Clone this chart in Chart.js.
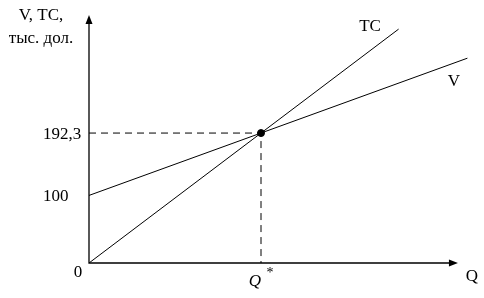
<!DOCTYPE html>
<html>
<head>
<meta charset="utf-8">
<script src="https://cdn.jsdelivr.net/npm/chart.js@4/dist/chart.umd.min.js"></script>
<style>
  html, body { margin: 0; padding: 0; background: #fff; }
  #wrap { width: 484px; height: 298px; }
</style>
</head>
<body>
<div id="wrap"><canvas id="chart"></canvas></div>
<script>
// данные графика
const qStar = 10;
const yStar = 192.3;
const tcQ = [0, 18];
const tcValues = [0, 346.1];
const vQ = [0, 22];
const vValues = [100, 303.1];
const yTickLabels = ['0', '100', '192,3'];
const yTickValues = [0, 100, 192.3];
const xMax = 22.2;
const yMax = 367;
const xAxisEnd = 21.45;

function toPoints(xs, ys) {
    return xs.map((x, i) => ({ x: x, y: ys[i] }));
}

const serif = '"Liberation Serif", "Times New Roman", serif';

const axesPlugin = {
    id: 'axes',
    afterDraw(chart) {
        const ctx = chart.ctx;
        const xs = chart.scales.x, ys = chart.scales.y;
        const x0 = xs.getPixelForValue(0), y0 = ys.getPixelForValue(0);
        const xEnd = xs.getPixelForValue(xAxisEnd), yEnd = ys.getPixelForValue(yMax);
        ctx.save();
        ctx.strokeStyle = '#000';
        ctx.fillStyle = '#000';
        ctx.lineWidth = 1.3;
        ctx.beginPath();
        ctx.moveTo(x0, yEnd + 4);
        ctx.lineTo(x0, y0);
        ctx.lineTo(xEnd - 4, y0);
        ctx.stroke();
        // стрелки
        ctx.beginPath();
        ctx.moveTo(x0, yEnd);
        ctx.lineTo(x0 - 3.5, yEnd + 9);
        ctx.lineTo(x0 + 3.5, yEnd + 9);
        ctx.closePath();
        ctx.fill();
        ctx.beginPath();
        ctx.moveTo(xEnd, y0);
        ctx.lineTo(xEnd - 9, y0 - 3.5);
        ctx.lineTo(xEnd - 9, y0 + 3.5);
        ctx.closePath();
        ctx.fill();

        ctx.font = '17px ' + serif;
        ctx.textBaseline = 'middle';
        ctx.textAlign = 'left';
        yTickLabels.forEach((t, i) => {
            if (yTickValues[i] === 0) return;
            ctx.fillText(t, 43, ys.getPixelForValue(yTickValues[i]) + 1);
        });
        ctx.textAlign = 'center';
        ctx.fillText('0', x0 - 11, y0 + 10);
        ctx.fillText('Q', 472, y0 + 14);
        ctx.fillText('V, TC,', 41, 16);
        ctx.fillText('тыс. дол.', 41, 39);
        ctx.fillText('TC', 370, 27);
        ctx.fillText('V', 454, 82);
        ctx.font = 'italic 17px ' + serif;
        ctx.fillText('Q', xs.getPixelForValue(qStar) - 6, y0 + 19);
        ctx.font = '14px ' + serif;
        ctx.fillText('*', xs.getPixelForValue(qStar) + 9, y0 + 10);
        ctx.restore();
    }
};

new Chart(document.getElementById('chart'), {
    type: 'scatter',
    data: {
        datasets: [
            {
                label: 'TC',
                data: toPoints(tcQ, tcValues),
                showLine: true,
                borderColor: '#000',
                borderWidth: 1,
                pointRadius: 0
            },
            {
                label: 'V',
                data: toPoints(vQ, vValues),
                showLine: true,
                borderColor: '#000',
                borderWidth: 1,
                pointRadius: 0
            },
            {
                label: 'guide',
                data: [{ x: 0, y: yStar }, { x: qStar, y: yStar }, { x: qStar, y: 0 }],
                showLine: true,
                borderColor: '#000',
                borderWidth: 1,
                borderDash: [7, 5],
                pointRadius: 0
            },
            {
                label: 'equilibrium',
                data: [{ x: qStar, y: yStar }],
                backgroundColor: '#000',
                borderColor: '#000',
                pointRadius: 3.5
            }
        ]
    },
    options: {
        responsive: true,
        maintainAspectRatio: false,
        animation: false,
        layout: { padding: { left: 89, right: 484 - 89 - xMax * 17.2, top: 15, bottom: 35 } },
        plugins: { legend: { display: false }, tooltip: { enabled: false } },
        scales: {
            x: { type: 'linear', min: 0, max: xMax, display: false },
            y: { type: 'linear', min: 0, max: yMax, display: false }
        }
    },
    plugins: [axesPlugin]
});
</script>
</body>
</html>
